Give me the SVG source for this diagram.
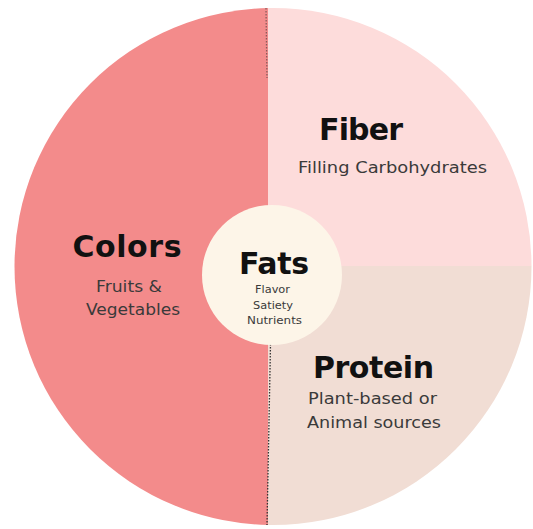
<svg xmlns="http://www.w3.org/2000/svg" width="533" height="529" viewBox="0 0 533 529">
<style>
.t{font-family:"DejaVu Sans","Liberation Sans",sans-serif;font-weight:bold;font-size:30px;fill:#111;text-anchor:middle}
.s{font-family:"DejaVu Sans","Liberation Sans",sans-serif;font-size:16px;fill:#3a3a3a;text-anchor:middle}
.f{font-family:"DejaVu Sans","Liberation Sans",sans-serif;font-size:11px;fill:#3a3a3a;text-anchor:middle}
.div{stroke:#333;stroke-width:1.3;stroke-dasharray:1.5 1.5;fill:none}
</style>
<defs>
<clipPath id="cl"><rect x="0" y="0" width="268" height="529"/></clipPath>
<clipPath id="cf"><rect x="268" y="0" width="265" height="266"/></clipPath>
<clipPath id="cp"><rect x="268" y="266" width="265" height="263"/></clipPath>
</defs>
<rect width="533" height="529" fill="#ffffff"/>
<g id="colors">
<circle cx="273" cy="266.5" r="258.5" fill="#F38B8B" clip-path="url(#cl)"/>
<text class="t" x="127" y="257" textLength="109">Colors</text>
<text class="s" x="129" y="292" textLength="66" lengthAdjust="spacingAndGlyphs">Fruits &amp;</text>
<text class="s" x="133" y="315" textLength="94" lengthAdjust="spacingAndGlyphs">Vegetables</text>
</g>
<g id="fiber">
<circle cx="273" cy="266.5" r="258.5" fill="#FDDCDB" clip-path="url(#cf)"/>
<text class="t" x="361" y="140" textLength="84">Fiber</text>
<text class="s" x="392.5" y="173" textLength="189" lengthAdjust="spacingAndGlyphs">Filling Carbohydrates</text>
</g>
<g id="protein">
<circle cx="273" cy="266.5" r="258.5" fill="#F1DDD4" clip-path="url(#cp)"/>
<text class="t" x="373.5" y="378" textLength="121">Protein</text>
<text class="s" x="372.5" y="404" textLength="129" lengthAdjust="spacingAndGlyphs">Plant-based or</text>
<text class="s" x="374" y="428" textLength="134" lengthAdjust="spacingAndGlyphs">Animal sources</text>
</g>
<g id="connectors">
<line class="div" x1="266" y1="8" x2="267" y2="78" opacity="0.55"/>
<line class="div" x1="270.5" y1="344" x2="267" y2="525"/>
</g>
<g id="fats">
<circle cx="272" cy="275" r="70" fill="#FDF5E8"/>
<text class="t" x="274" y="274" textLength="70">Fats</text>
<text class="f" x="272.5" y="293" textLength="35" lengthAdjust="spacingAndGlyphs">Flavor</text>
<text class="f" x="273" y="308.5" textLength="40" lengthAdjust="spacingAndGlyphs">Satiety</text>
<text class="f" x="274.5" y="324" textLength="55" lengthAdjust="spacingAndGlyphs">Nutrients</text>
</g>
</svg>
